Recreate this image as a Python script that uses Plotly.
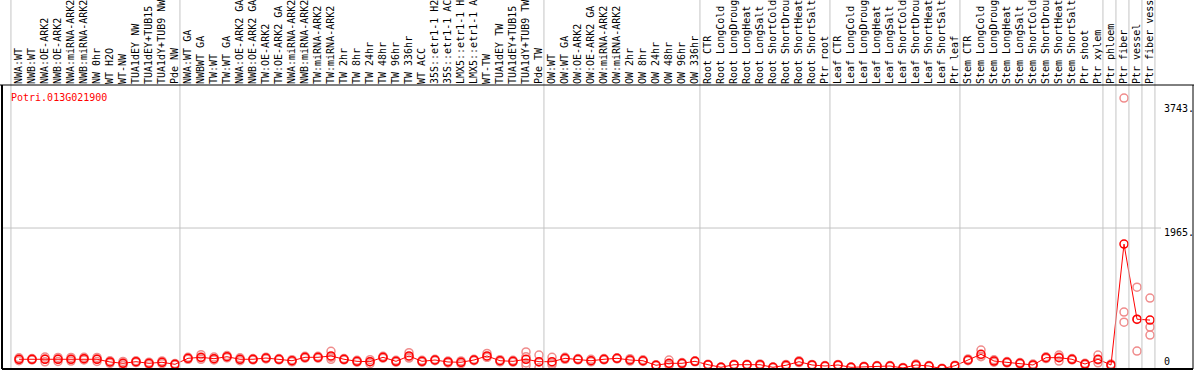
import plotly.graph_objects as go

gene_id = "Potri.013G021900"

labels = [
    "NWA:WT", "NWB:WT", "NWA:OE-ARK2", "NWB:OE-ARK2", "NWA:miRNA-ARK2", "NWB:miRNA-ARK2",
    "NW 0hr", "WT H2O", "WT-NW", "TUA1dEY NW", "TUA1dEY+TUB15 NW", "TUA1dY+TUB9 NW", "Pde NW",
    "NWA:WT GA", "NWBWT GA", "TW:WT", "TW:WT GA", "NWA:OE-ARK2 GA", "NWB:OE-ARK2 GA",
    "TW:OE-ARK2", "TW:OE-ARK2 GA", "NWA:miRNA-ARK2 GA", "NWB:miRNA-ARK2 GA", "TW:miRNA-ARK2",
    "TW:miRNA-ARK2 GA", "TW 2hr", "TW 8hr", "TW 24hr", "TW 48hr", "TW 96hr", "TW 336hr",
    "WT ACC", "35S::etr1-1 H2O", "35S::etr1-1 ACC", "LMX5::etr1-1 H2O", "LMX5::etr1-1 ACC",
    "WT-TW", "TUA1dEY TW", "TUA1dEY+TUB15 TW", "TUA1dY+TUB9 TW", "Pde TW",
    "OW:WT", "OW:WT GA", "OW:OE-ARK2", "OW:OE-ARK2 GA", "OW:miRNA-ARK2", "OW:miRNA-ARK2 GA",
    "OW 2hr", "OW 8hr", "OW 24hr", "OW 48hr", "OW 96hr", "OW 336hr",
    "Root CTR", "Root LongCold", "Root LongDrought", "Root LongHeat", "Root LongSalt",
    "Root ShortCold", "Root ShortDrought", "Root ShortHeat", "Root ShortSalt", "Ptr root",
    "Leaf CTR", "Leaf LongCold", "Leaf LongDrought", "Leaf LongHeat", "Leaf LongSalt",
    "Leaf ShortCold", "Leaf ShortDrought", "Leaf ShortHeat", "Leaf ShortSalt", "Ptr leaf",
    "Stem CTR", "Stem LongCold", "Stem LongDrought", "Stem LongHeat", "Stem LongSalt",
    "Stem ShortCold", "Stem ShortDrought", "Stem ShortHeat", "Stem ShortSalt",
    "Ptr shoot", "Ptr xylem", "Ptr phloem", "Ptr fiber", "Ptr vessel", "Ptr fiber vessel",
]

group_sizes = [13, 28, 12, 10, 10, 11, 1, 1, 1, 1]

means = [
    170, 170, 170, 170, 170, 178, 170, 133, 115, 137, 115, 129, 101,
    183, 197, 178, 205, 170, 170, 187, 170, 150, 197, 197, 215, 170, 142, 137, 197, 142,
    215, 142, 160, 133, 129, 160, 215, 150, 142, 170, 137,
    137, 183, 170, 150, 170, 183, 160, 150, 88, 115, 115, 142,
    96, 60, 96, 96, 96, 60, 88, 137, 92, 78,
    92, 60, 68, 78, 78, 51, 92, 78, 41, 82,
    160, 238, 146, 129, 115, 92, 192, 192, 170, 105, 170,
    92, 1745, 718, 706,
]

replicates = [
    [150, 170, 190], [160, 170, 180], [135, 175, 200], [140, 175, 195], [145, 170, 195],
    [160, 178, 196], [140, 175, 195], [115, 133, 150], [90, 115, 140], [125, 137, 150],
    [100, 115, 130], [110, 130, 148], [90, 101, 112],
    [170, 183, 196], [233, 170, 188], [160, 178, 200], [190, 205, 220], [150, 170, 190],
    [160, 170, 180], [175, 187, 199], [160, 170, 180], [135, 150, 165], [185, 197, 210],
    [185, 197, 210], [279, 170, 196], [160, 170, 180], [130, 142, 155], [110, 137, 165],
    [185, 197, 210], [130, 142, 155], [260, 187, 198], [130, 142, 155], [150, 160, 170],
    [120, 133, 146], [110, 129, 148], [150, 160, 170], [250, 197, 198], [135, 150, 165],
    [130, 142, 155], [270, 205, 120, 85], [228, 130, 55],
    [197, 96, 118], [170, 183, 196], [160, 170, 180], [135, 150, 170], [160, 170, 180],
    [175, 183, 191], [145, 160, 178], [140, 150, 162], [80, 88, 96], [160, 88, 97],
    [105, 115, 125], [135, 142, 150],
    [90, 96, 102], [55, 60, 65], [90, 96, 102], [90, 96, 102], [85, 96, 107],
    [55, 60, 65], [75, 88, 100], [125, 137, 150], [85, 92, 99], [72, 78, 84],
    [85, 92, 99], [55, 60, 65], [62, 68, 74], [72, 78, 84], [72, 78, 84],
    [45, 51, 57], [80, 92, 104], [72, 78, 84], [36, 41, 46], [75, 82, 89],
    [150, 160, 175], [297, 205, 212], [130, 146, 162], [120, 129, 138], [105, 115, 125],
    [80, 92, 104], [180, 192, 204], [228, 146, 202], [160, 170, 180], [95, 105, 115],
    [228, 160, 122],
    [80, 92, 104], [3743, 815, 678], [1156, 282, 715], [1007, 610, 501],
]

axis_labels = ["3743.", "1965.", "0"]
axis_values = [3743, 1965, 0]

W, H = 1194, 370
FONT = "DejaVu Sans Mono"
RED = "#ff0000"
PINK = "#f08c8c"
GRAY = "#c4c4c4"

xs = list(range(len(labels)))
rep_x, rep_y = [], []
for i, reps in enumerate(replicates):
    for v in reps:
        rep_x.append(i)
        rep_y.append(v)

fig = go.Figure()
fig.add_trace(go.Scatter(
    x=rep_x, y=rep_y, mode="markers",
    marker=dict(symbol="circle-open", size=8, color=PINK, line=dict(width=1.5, color=PINK)),
    hoverinfo="skip", showlegend=False,
))
fig.add_trace(go.Scatter(
    x=xs, y=means, mode="lines+markers",
    line=dict(color=RED, width=1),
    marker=dict(symbol="circle-open", size=8, color=RED, line=dict(width=1.5, color=RED)),
    showlegend=False,
))

# pixel geometry
step = 13.0
x0 = -19.0 / step
x1 = x0 + W / step
top_px, bot_px = 85, 369

shapes = []
b = 0
bounds = [0]
for g in group_sizes:
    b += g
    bounds.append(b)
for bnd in bounds:
    shapes.append(dict(type="line", xref="x", yref="paper", x0=bnd - 0.62, x1=bnd - 0.62,
                       y0=(H - bot_px) / H, y1=1, line=dict(color=GRAY, width=1)))
shapes.append(dict(type="line", xref="paper", yref="y", x0=2 / W, x1=1161 / W,
                   y0=axis_values[1], y1=axis_values[1], line=dict(color=GRAY, width=1)))
shapes.append(dict(type="line", xref="paper", yref="paper", x0=0, x1=1,
                   y0=(H - top_px) / H, y1=(H - top_px) / H, line=dict(color="black", width=1)))
shapes.append(dict(type="line", xref="paper", yref="paper", x0=2 / W, x1=2 / W,
                   y0=(H - bot_px) / H, y1=(H - top_px) / H, line=dict(color="black", width=2)))
shapes.append(dict(type="line", xref="paper", yref="paper", x0=1193 / W, x1=1193 / W,
                   y0=(H - bot_px) / H, y1=(H - top_px) / H, line=dict(color="black", width=1)))
shapes.append(dict(type="line", xref="paper", yref="paper", x0=2 / W, x1=1193 / W,
                   y0=(H - bot_px) / H, y1=(H - bot_px) / H, line=dict(color="black", width=2)))

annotations = [dict(text=gene_id, xref="paper", yref="paper", x=9 / W, y=(H - 97) / H,
                    xanchor="left", yanchor="middle", showarrow=False,
                    font=dict(family=FONT, size=10, color=RED))]
label_px = [108, 232, 361]
for t, py in zip(axis_labels, label_px):
    annotations.append(dict(text=t, xref="paper", yref="paper", x=1162 / W, y=(H - py) / H,
                            xanchor="left", yanchor="middle", showarrow=False,
                            font=dict(family=FONT, size=10, color="black")))

fig.update_layout(
    width=W, height=H, margin=dict(l=0, r=0, t=0, b=0),
    paper_bgcolor="white", plot_bgcolor="white",
    xaxis=dict(range=[x0, x1], domain=[0, 1], side="top", tickmode="array",
               tickvals=xs, ticktext=labels, tickangle=-90, ticks="", showgrid=False,
               zeroline=False, showline=False, automargin=False, ticklabelstandoff=0,
               tickfont=dict(family=FONT, size=10, color="black")),
    yaxis=dict(range=[37, 3921], domain=[(H - bot_px) / H, (H - top_px) / H],
               showticklabels=False, ticks="", showgrid=False, zeroline=False,
               showline=False, automargin=False),
    shapes=shapes, annotations=annotations,
    font=dict(family=FONT),
)

fig.write_html("out.html", config={"displayModeBar": False},
               post_script="document.body.style.margin='0';document.body.style.overflow='hidden';")
